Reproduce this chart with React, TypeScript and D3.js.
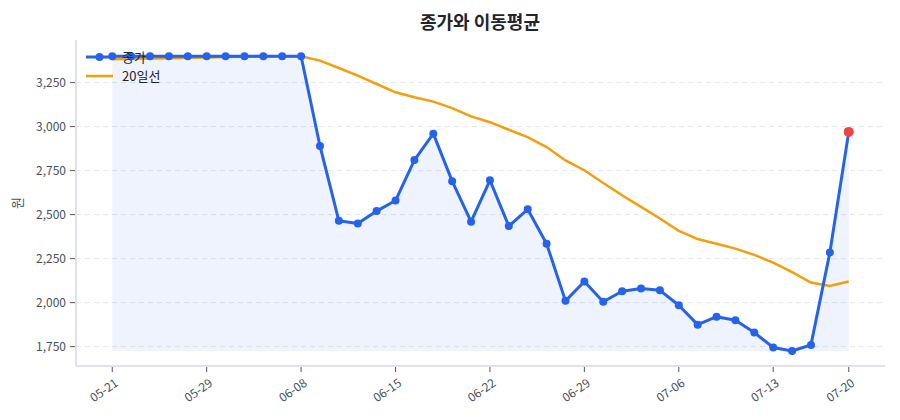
import React from "react";
import * as d3 from "d3";

const dates = [
  "05-21", "05-22", "05-26", "05-27", "05-28", "05-29", "06-01", "06-02", "06-04", "06-05",
  "06-08", "06-09", "06-10", "06-11", "06-12", "06-15", "06-16", "06-17", "06-18", "06-19",
  "06-22", "06-23", "06-24", "06-25", "06-26", "06-29", "06-30", "07-01", "07-02", "07-03",
  "07-06", "07-07", "07-08", "07-09", "07-10", "07-13", "07-14", "07-15", "07-16", "07-20",
];

const close = [
  3400, 3400, 3400, 3400, 3400, 3400, 3400, 3400, 3400, 3400,
  3400, 2890, 2465, 2450, 2520, 2580, 2810, 2960, 2690, 2460,
  2695, 2435, 2530, 2335, 2010, 2120, 2005, 2065, 2080, 2070,
  1985, 1875, 1920, 1900, 1830, 1745, 1725, 1760, 2285, 2970,
];

const ma20 = [
  3383, 3385, 3387, 3389, 3391, 3393, 3395, 3397, 3399, 3400,
  3400, 3375, 3333, 3290, 3242, 3195, 3167, 3142, 3105, 3058,
  3025, 2982, 2940, 2884, 2808, 2752, 2680, 2610, 2544, 2478,
  2408, 2361, 2335, 2307, 2271, 2227, 2173, 2114, 2095, 2120,
];

const yTicks = [1750, 2000, 2250, 2500, 2750, 3000, 3250];
const xTickLabels = ["05-21", "05-29", "06-08", "06-15", "06-22", "06-29", "07-06", "07-13", "07-20"];

const W = 900;
const H = 420;
const M = { left: 76, right: 15, top: 40, bottom: 54 };
const FONT = "'Noto Sans CJK KR', 'Noto Sans', sans-serif";

export default function App() {
  const x = d3
    .scalePoint<string>()
    .domain(dates)
    .range([M.left, W - M.right])
    .padding(1.92);
  const y = d3
    .scaleLinear()
    .domain([1640, 3492])
    .range([H - M.bottom, M.top]);

  const idx = d3.range(dates.length);
  const minV = d3.min(close) as number;

  const line = d3
    .line<number>()
    .x((i) => x(dates[i]) as number)
    .y((i) => y(close[i]));
  const maLine = d3
    .line<number>()
    .x((i) => x(dates[i]) as number)
    .y((i) => y(ma20[i]));
  const area = d3
    .area<number>()
    .x((i) => x(dates[i]) as number)
    .y0(y(minV))
    .y1((i) => y(close[i]));

  const fmt = d3.format(",");
  const last = dates.length - 1;
  const plotL = M.left;
  const plotR = W - M.right;
  const plotB = H - M.bottom;

  return (
    <div style={{ position: "fixed", left: 0, top: 0 }}>
      <svg width={W} height={H} style={{ display: "block", background: "#fff" }} fontFamily={FONT}>
        <text x={480} y={29} textAnchor="middle" fontSize={18} fontWeight={700} fill="#1f2430">
          종가와 이동평균
        </text>

        {/* grid */}
        {yTicks.map((t) => (
          <line
            key={"g" + t}
            x1={plotL}
            x2={plotR}
            y1={y(t)}
            y2={y(t)}
            stroke="#e3e6ec"
            strokeWidth={1}
            strokeDasharray="5,4"
          />
        ))}

        {/* area */}
        <path d={area(idx) || ""} fill="#2563eb" fillOpacity={0.08} />

        {/* MA line */}
        <path d={maLine(idx) || ""} fill="none" stroke="#f59e0b" strokeWidth={2.5} />

        {/* close line */}
        <path d={line(idx) || ""} fill="none" stroke="#2563eb" strokeWidth={3} strokeLinejoin="round" />
        {idx.slice(0, last).map((i) => (
          <circle key={"p" + i} cx={x(dates[i]) as number} cy={y(close[i])} r={4} fill="#2563eb" />
        ))}
        <circle cx={x(dates[last]) as number} cy={y(close[last])} r={5} fill="#ef4444" />

        {/* axes */}
        <line x1={plotL} x2={plotL} y1={M.top} y2={plotB} stroke="#dfe2e8" strokeWidth={2} />
        <line x1={plotL} x2={plotR} y1={plotB} y2={plotB} stroke="#dfe2e8" strokeWidth={2} />
        {yTicks.map((t) => (
          <g key={"y" + t}>
            <line x1={plotL - 6} x2={plotL - 1} y1={y(t)} y2={y(t)} stroke="#555" strokeWidth={1} />
            <text x={plotL - 10} y={y(t)} dy="0.35em" textAnchor="end" fontSize={12} fill="#4a4f5a">
              {fmt(t)}
            </text>
          </g>
        ))}
        {xTickLabels.map((d) => {
          const px = x(d) as number;
          return (
            <g key={"x" + d}>
              <line x1={px} x2={px} y1={plotB + 1} y2={plotB + 6} stroke="#555" strokeWidth={1} />
              <text
                transform={`translate(${px + 2},${plotB + 12}) rotate(-35)`}
                textAnchor="end"
                dy="0.7em"
                fontSize={12}
                fill="#4a4f5a"
              >
                {d}
              </text>
            </g>
          );
        })}

        <text
          transform={`translate(22,${(M.top + plotB) / 2}) rotate(-90)`}
          textAnchor="middle"
          fontSize={13}
          fill="#4a4f5a"
        >
          원
        </text>

        {/* legend */}
        <g>
          <line x1={86} x2={113} y1={57} y2={57} stroke="#2563eb" strokeWidth={3} />
          <circle cx={99.5} cy={57} r={4} fill="#2563eb" />
          <text x={122} y={57} dy="0.35em" fontSize={13} fill="#1f2430">
            종가
          </text>
          <line x1={86} x2={113} y1={76} y2={76} stroke="#f59e0b" strokeWidth={2.5} />
          <text x={122} y={76} dy="0.35em" fontSize={13} fill="#1f2430">
            20일선
          </text>
        </g>
      </svg>
    </div>
  );
}
